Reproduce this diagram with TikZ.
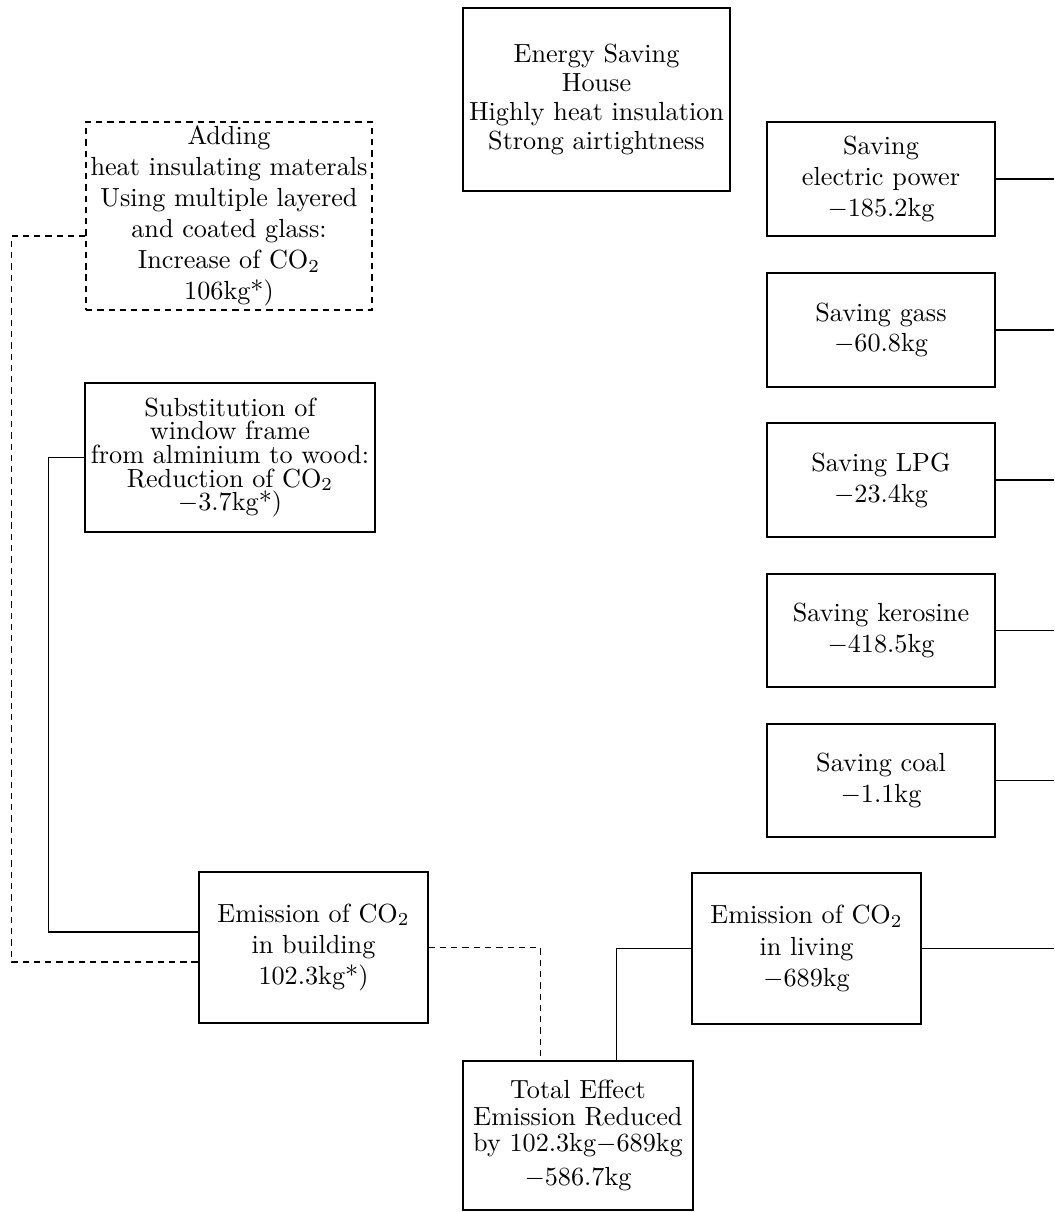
\documentclass[tikz,border=0pt]{standalone}
\usetikzlibrary{calc}
\def\pxu{0.3817pt}
\tikzset{
  box/.style={draw, line width=0.5pt, inner sep=0pt, align=center, font=\fontsize{10}{#1}\selectfont},
  box/.default=12pt,
  dashline/.style={line width=0.45pt, dash pattern=on 2.4pt off 1.9pt},
  conn/.style={line width=0.45pt},
}
\begin{document}
\begin{tikzpicture}[x=\pxu, y=-\pxu]
\useasboundingbox (0,0) rectangle (1054,1212);
\coordinate (redge) at (1054,0);

\node[box=11pt, minimum width={267*\pxu}, minimum height={183*\pxu}] (energy) at (596.5,99.5)
  {Energy Saving\\House\\Highly heat insulation\\Strong airtightness};

\node[box=11.8pt, dashline, minimum width={286*\pxu}, minimum height={188*\pxu}] (adding) at (229,216)
  {Adding\\heat insulating materals\\Using multiple layered\\and coated glass:\\Increase of CO$_2$\\106kg*)};

\node[box=9pt, minimum width={290*\pxu}, minimum height={149*\pxu}] (subst) at (230,457.5)
  {Substitution of\\window frame\\from alminium to wood:\\Reduction of CO$_2$\\$-$3.7kg*)};

\node[box=11.8pt, minimum width={228*\pxu}, minimum height={114*\pxu}] (b1) at (881,179)
  {Saving\\electric power\\$-$185.2kg};
\node[box=11.8pt, minimum width={228*\pxu}, minimum height={114*\pxu}] (b2) at (881,330)
  {Saving gass\\$-$60.8kg};
\node[box=11.8pt, minimum width={228*\pxu}, minimum height={114*\pxu}] (b3) at (881,480)
  {Saving LPG\\$-$23.4kg};
\node[box=11.8pt, minimum width={228*\pxu}, minimum height={113*\pxu}] (b4) at (881,630.5)
  {Saving kerosine\\$-$418.5kg};
\node[box=11.8pt, minimum width={228*\pxu}, minimum height={113*\pxu}] (b5) at (881,780.5)
  {Saving coal\\$-$1.1kg};

\node[box=12pt, minimum width={229*\pxu}, minimum height={151*\pxu}] (building) at (313.5,947.5)
  {Emission of CO$_2$\\in building\\102.3kg*)};
\node[box=12pt, minimum width={229*\pxu}, minimum height={151*\pxu}] (living) at (806.5,948.5)
  {Emission of CO$_2$\\in living\\$-$689kg};

\node[box=10pt, minimum width={230*\pxu}, minimum height={149*\pxu}] (total) at (578,1135.5)
  {Total Effect\\Emission Reduced\\by 102.3kg$-$689kg\\[3pt]$-$586.7kg};

% connectors
\draw[dashline] ($(adding.west)+(0,20)$) -- ++(-74,0) |- ($(building.west)+(0,14.5)$);
\draw[conn] (subst.west) -- ++(-36,0) |- ($(building.west)+(0,-15.5)$);
\draw[dashline] (building.east) -| ($(total.north west)+(78,0)$);
\draw[conn] (living.west) -| ($(total.north west)+(154,0)$);
\draw[conn] (living.east) -- (living.east -| redge);
\foreach \b in {b1,b2,b3,b4,b5}
  \draw[conn] (\b.east) -- (\b.east -| redge);
\end{tikzpicture}
\end{document}
